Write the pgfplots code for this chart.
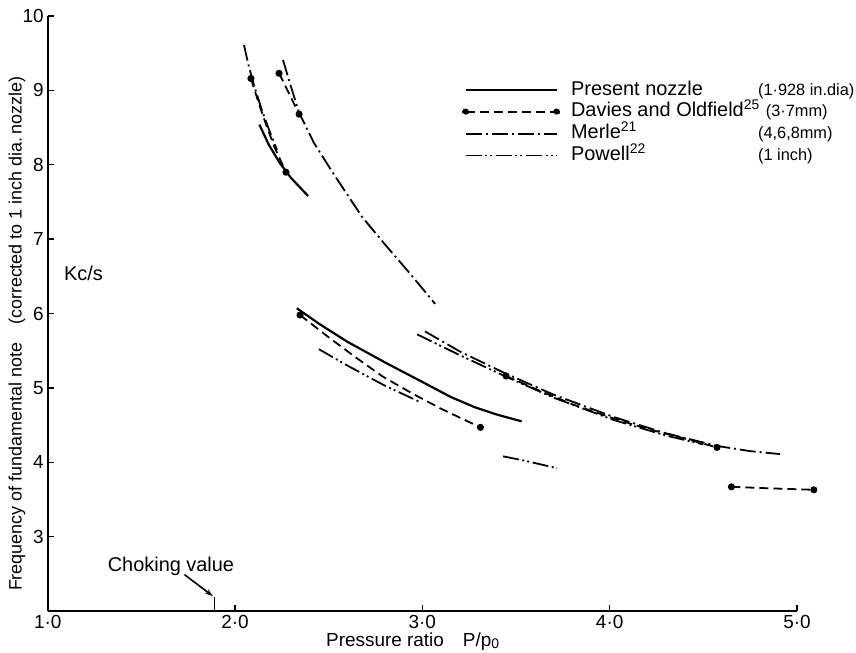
\documentclass[border=0pt]{standalone}
\usepackage{pgfplots}
\pgfplotsset{compat=1.18}
\usepackage{fontspec}
\setmainfont{Liberation Sans}
\usetikzlibrary{arrows.meta}

\pgfplotsset{
  present/.style={black, line width=1.1bp, solid},
  davies/.style={black, line width=0.9bp, dash pattern=on 4.5bp off 2.5bp, mark=*, mark size=1.3bp, mark options={solid}},
  merle/.style={black, line width=0.9bp, dash pattern=on 8bp off 2bp on 1bp off 2bp},
  powell/.style={black, line width=0.9bp, dash pattern=on 8bp off 1.8bp on 1bp off 1.5bp on 1bp off 1.8bp},
}
\newcommand{\desc}[1]{{\fontsize{8.2}{10}\selectfont #1}}

\begin{document}
\begin{tikzpicture}
\begin{axis}[
  scale only axis, width=374.6bp, height=297.5bp,
  xmin=1, xmax=5, ymin=2, ymax=10,
  axis lines=left, axis line style={-, line width=0.9bp},
  clip=false,
  xtick={1,2,3,4,5}, xticklabels={1·0,2·0,3·0,4·0,5·0},
  ytick={3,4,5,6,7,8,9,10},
  tick align=inside, major tick length=3bp,
  tick style={line width=0.7bp, black},
  ticklabel style={font=\fontsize{9.5}{11}\selectfont},
  xticklabel style={yshift=1.5bp},
  yticklabel style={xshift=1.5bp},
  /pgf/number format/assume math mode=true,
  xlabel={Pressure ratio\quad P/p\raisebox{-0.2ex}{\fontsize{7}{8}\selectfont 0}},
  ylabel={Frequency of fundamental note\quad (corrected to 1 inch dia.\,nozzle)},
  xlabel style={at={(axis description cs:0.487,-0.052)}, anchor=center, font=\fontsize{9.5}{11}\selectfont},
  ylabel style={at={(axis description cs:-0.041,0.466)}, anchor=center, font=\fontsize{9}{11}\selectfont},
  legend image code/.code={\draw[#1] (0bp,0bp) -- (45.5bp,0bp);},
  legend style={at={(axis cs:3.212,9.137)}, anchor=north west, draw=none, fill=none,
    inner sep=0pt, outer sep=0pt, row sep=0.65bp, column sep=5.5bp,
    font=\fontsize{10}{12}\selectfont,
    nodes={inner sep=0pt, text height=7.5bp, text depth=2.7bp},
    cells={anchor=west}},
]
% ---- Present nozzle
\addplot[present, forget plot] coordinates {(2.13,8.54) (2.18,8.27) (2.24,8.02) (2.30,7.82) (2.39,7.58)};
\addplot[present, forget plot] coordinates {(2.33,6.07) (2.45,5.86) (2.60,5.62) (2.81,5.33) (3.00,5.08) (3.15,4.88) (3.28,4.74) (3.40,4.64) (3.53,4.55)};
% ---- Davies and Oldfield
\addplot[davies, mark indices={1,5}, forget plot] coordinates {(2.085,9.16) (2.12,8.88) (2.16,8.58) (2.21,8.24) (2.272,7.90)};
\addplot[davies, mark indices={1,3}, forget plot] coordinates {(2.235,9.23) (2.29,8.95) (2.342,8.68)};
\addplot[davies, mark indices={1,8}, forget plot] coordinates {(2.347,5.98) (2.50,5.68) (2.65,5.40) (2.79,5.15) (2.95,4.92) (3.10,4.72) (3.20,4.60) (3.31,4.47)};
\addplot[davies, mark indices={1,7}, forget plot] coordinates {(3.447,5.16) (3.60,4.99) (3.80,4.78) (4.02,4.59) (4.20,4.45) (4.40,4.32) (4.573,4.20)};
\addplot[davies, mark indices={1,3}, forget plot] coordinates {(4.65,3.67) (4.85,3.65) (5.09,3.63)};
% ---- Merle
\addplot[merle, forget plot] coordinates {(2.048,9.61) (2.07,9.36) (2.10,9.08) (2.14,8.76) (2.18,8.48) (2.224,8.20)};
\addplot[merle, forget plot] coordinates {(2.256,9.41) (2.29,9.12) (2.342,8.70) (2.42,8.30) (2.52,7.90) (2.678,7.30) (2.80,6.93) (2.94,6.52) (3.068,6.13)};
\addplot[merle, forget plot] coordinates {(3.014,5.76) (3.20,5.49) (3.447,5.19) (3.70,4.91) (4.02,4.61) (4.30,4.39) (4.573,4.22) (4.75,4.15) (4.91,4.11)};
% ---- Powell
\addplot[powell, forget plot] coordinates {(2.448,5.52) (2.60,5.30) (2.80,5.03) (2.988,4.81)};
\addplot[powell, forget plot] coordinates {(3.431,4.08) (3.55,4.02) (3.719,3.92)};
\addplot[powell, forget plot] coordinates {(2.972,5.72) (3.20,5.44) (3.447,5.15) (3.70,4.87) (4.02,4.57) (4.30,4.36) (4.50,4.24)};
% ---- legend
\addlegendimage{present}
\addlegendentry{\makebox[93.5bp][l]{Present nozzle}\desc{(1·928 in.dia)}}
\addlegendimage{davies, legend image code/.code={\draw[black, line width=0.9bp, dash pattern=on 4.5bp off 2.5bp] (0bp,0bp) -- (45.5bp,0bp); \fill[black] (0bp,0bp) circle[radius=1.3bp]; \fill[black] (45.5bp,0bp) circle[radius=1.3bp];}}
\addlegendentry{Davies and Oldfield\textsuperscript{25} \desc{(3·7mm)}}
\addlegendimage{merle}
\addlegendentry{\makebox[93.5bp][l]{Merle\textsuperscript{21}}\desc{(4,6,8mm)}}
\addlegendimage{powell}
\addlegendentry{\makebox[93.5bp][l]{Powell\textsuperscript{22}}\desc{(1 inch)}}
% ---- annotations
\node[anchor=west, font=\fontsize{10}{12}\selectfont] at (axis cs:1.05,6.54) {Kc/s};
\draw[line width=0.7bp] (axis cs:1.89,2) -- (axis cs:1.89,2.19);
\node[font=\fontsize{10}{12}\selectfont] at (axis cs:1.658,2.60) {Choking value};
\draw[line width=0.8bp, -{Stealth[length=4bp,width=2.5bp]}] (axis cs:1.73,2.49) -- (axis cs:1.882,2.20);
\coordinate (bl) at (axis cs:1,2);
\coordinate (tr) at (axis cs:5,10);
\end{axis}
\pgfresetboundingbox
\path[use as bounding box] ([shift={(-23.85bp,-20.5bp)}]bl) rectangle ([shift={(29.5bp,8bp)}]tr);
\end{tikzpicture}
\end{document}
